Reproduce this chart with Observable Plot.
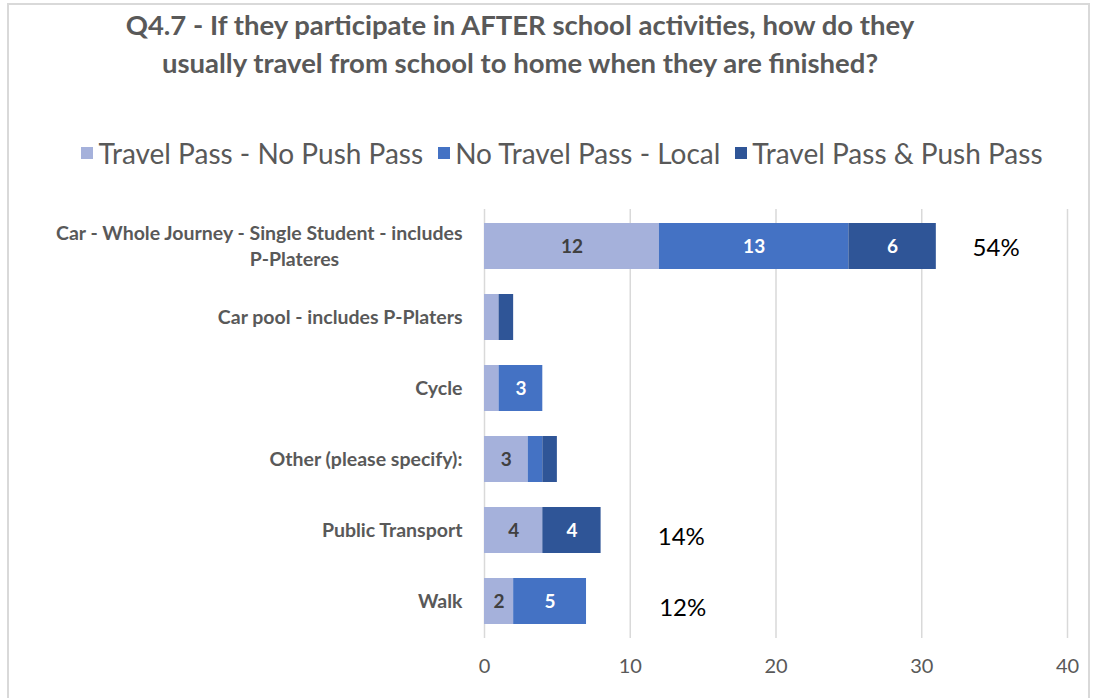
<!DOCTYPE html>
<html>
<head>
<meta charset="utf-8">
<script src="https://cdn.jsdelivr.net/npm/d3@7"></script>
<script src="https://cdn.jsdelivr.net/npm/@observablehq/plot@0.6"></script>
<style>
  html, body { margin: 0; padding: 0; background: #fff; overflow: hidden; }
  body { width: 1094px; height: 698px; position: relative; font-family: Lato, "Open Sans", sans-serif; }
  #frame { position: absolute; left: 7px; top: 3px; width: 1083px; height: 720px; border: 2px solid #d9d9d9; box-sizing: border-box; }
  #title { position: absolute; left: 0; width: 1040px; top: 6px; text-align: center; font-weight: bold; font-size: 27.5px; line-height: 38px; color: #595959; }
  #legend { position: absolute; left: 0; top: 136px; width: 1124px; display: flex; justify-content: center; gap: 15px; font-size: 28px; color: #595959; }
  #legend .item { display: flex; align-items: center; }
  #legend .sw { width: 12px; height: 12px; margin-right: 5px; }
  #chart { position: absolute; left: 0; top: 190px; }
</style>
</head>
<body>
<div id="frame"></div>
<div id="title">Q4.7 - If they participate in AFTER school activities, how do they<br>usually travel from school to home when they are finished?</div>
<div id="legend"></div>
<div id="chart"></div>
<script>
const categories = [
  "Car - Whole Journey - Single Student - includes P-Plateres",
  "Car pool - includes P-Platers",
  "Cycle",
  "Other (please specify):",
  "Public Transport",
  "Walk"
];
const seriesNames = ["Travel Pass - No Push Pass", "No Travel Pass - Local", "Travel Pass & Push Pass"];
const travelPassNoPush = [12, 1, 1, 3, 4, 2];
const noTravelPassLocal = [13, 0, 3, 1, 0, 5];
const travelPassPush = [6, 1, 0, 1, 4, 0];
const colors = ["#A5B1DB", "#4472C4", "#2F5597"];
const xTicks = [0, 10, 20, 30, 40];
const pctCategories = [categories[0], "Public Transport", "Walk"];
const pctLabels = ["54%", "14%", "12%"];
const pctX = [35.1, 13.5, 13.6];

const seriesValues = [travelPassNoPush, noTravelPassLocal, travelPassPush];
const long = [];
seriesNames.forEach((s, si) => categories.forEach((c, ci) => long.push({cat: c, series: s, value: seriesValues[si][ci]})));
const pct = pctCategories.map((c, i) => ({cat: c, label: pctLabels[i], x: pctX[i]}));

// legend
const lg = document.getElementById("legend");
seriesNames.forEach((s, i) => {
  const it = document.createElement("div"); it.className = "item";
  const sw = document.createElement("div"); sw.className = "sw"; sw.style.background = colors[i];
  const tx = document.createElement("span"); tx.textContent = s;
  it.appendChild(sw); it.appendChild(tx); lg.appendChild(it);
});

const carFirst = "Car - Whole Journey - Single Student - includes";
const carSecond = "P-Plateres";

const chart = Plot.plot({
  width: 1094,
  height: 508,
  marginLeft: 484,
  marginRight: 27,
  marginTop: 19,
  marginBottom: 60,
  style: {fontFamily: "Lato, 'Open Sans', sans-serif", background: "transparent"},
  x: {domain: [0, 40], ticks: xTicks, label: null},
  y: {domain: categories, paddingInner: 0.35, paddingOuter: 0.175, label: null},
  color: {domain: seriesNames, range: colors},
  marks: [
    Plot.gridX(xTicks, {stroke: "#d9d9d9", strokeOpacity: 1, strokeWidth: 1.5}),
    Plot.barX(long, Plot.stackX({x: "value", y: "cat", fill: "series", z: "series"})),
    Plot.text(long, Plot.stackX({
      x: "value", y: "cat", z: "series",
      text: d => d.value >= 2 ? String(d.value) : "",
      fill: d => d.series === seriesNames[0] ? "#404040" : "#ffffff",
      fontWeight: "bold", fontSize: 19
    })),
    Plot.text(pct.slice(0, 1), {x: "x", y: "cat", text: "label", fontSize: 24, fill: "#000", dy: 2}),
    Plot.text(pct.slice(1), {x: "x", y: "cat", text: "label", fontSize: 24, fill: "#000", dy: 7}),
    Plot.axisX({ticks: xTicks, tickSize: 0, tickPadding: 20, fontSize: 20, color: "#595959", anchor: "bottom", label: null}),
    Plot.axisY({tickSize: 0, tickPadding: 22, fontSize: 19.5, fontWeight: "bold", color: "#595959", label: null,
      tickFormat: d => d === categories[0] ? "" : d}),
    Plot.text([categories[0]], {y: d => d, frameAnchor: "left", text: () => carFirst, dx: -22, dy: -13, fontSize: 19.5, fontWeight: "bold", fill: "#595959", textAnchor: "end"}),
    Plot.text([categories[0]], {y: d => d, frameAnchor: "left", text: () => carSecond, dx: -190, dy: 13, fontSize: 19.5, fontWeight: "bold", fill: "#595959", textAnchor: "middle"})
  ]
});
document.getElementById("chart").appendChild(chart);
</script>
</body>
</html>
